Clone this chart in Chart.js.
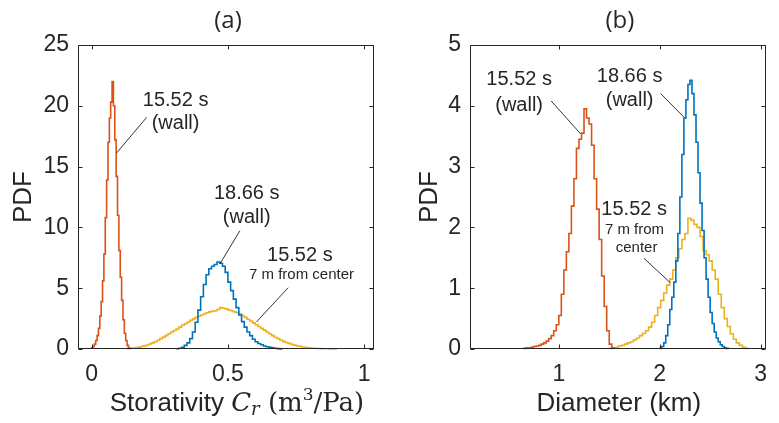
<!DOCTYPE html>
<html><head><meta charset="utf-8">
<script src="https://cdn.jsdelivr.net/npm/chart.js@4.4.1/dist/chart.umd.min.js"></script>
<style>
html,body{margin:0;padding:0;background:#fff;}
#wrap{position:relative;width:779px;height:423px;overflow:hidden;background:#fff;}
canvas{position:absolute;top:0;}
#ca{left:0;}
#cb{left:390px;}
</style></head><body>
<div id="wrap"><canvas id="ca" width="390" height="423"></canvas><canvas id="cb" width="389" height="423"></canvas></div>
<script>
// ---------- DATA (histogram bins: first bin left edge, bin width, PDF values) ----------
// Panel (a): Storativity C_r (m^3/Pa)
const redA_start = 0.0, redA_width = 0.005;
const redA = [0.1,0.2,0.4,0.7,1.1,1.7,2.7,3.9,5.6,7.8,10.8,13.9,17.0,19.0,20.3,22.0,20.0,17.2,14.2,11.0,8.1,5.9,4.0,2.4,1.3,0.7,0.3,0.1];
const blueA_start = 0.31, blueA_width = 0.01;
const blueA = [0.02,0.06,0.15,0.3,0.5,0.85,1.4,2.2,3.2,4.3,5.3,6.1,6.6,6.8,6.95,7.15,7.05,6.8,6.3,5.5,4.8,4.1,3.4,2.8,2.25,1.8,1.4,1.1,0.8,0.6,0.45,0.35,0.25,0.18,0.13,0.09,0.06,0.03,0.01];
const yellowA_start = 0.13, yellowA_width = 0.01;
const yellowA = [0.03,0.05,0.08,0.11,0.15,0.2,0.26,0.33,0.41,0.5,0.6,0.72,0.85,0.98,1.1,1.25,1.4,1.52,1.65,1.8,1.95,2.08,2.2,2.35,2.48,2.6,2.7,2.8,2.9,2.98,3.05,3.1,3.15,3.25,3.4,3.35,3.3,3.2,3.15,3.05,2.98,2.9,2.75,2.6,2.45,2.3,2.15,2.0,1.85,1.7,1.55,1.4,1.25,1.1,0.97,0.85,0.74,0.63,0.54,0.46,0.39,0.32,0.27,0.22,0.17,0.14,0.11,0.08,0.06,0.05,0.04,0.03,0.02,0.02,0.01,0.01,0.01];
// Panel (b): Diameter (km)
const redB_start = 0.65, redB_width = 0.025;
const redB = [0.01,0.02,0.02,0.03,0.04,0.05,0.06,0.08,0.1,0.13,0.17,0.22,0.3,0.4,0.55,0.9,1.3,1.6,1.9,2.35,2.8,3.3,3.45,3.55,3.95,3.8,3.7,3.35,2.8,2.3,1.8,1.2,0.7,0.3,0.08,0.02];
const blueB_start = 2.0, blueB_width = 0.02;
const blueB = [0.01,0.04,0.1,0.22,0.4,0.65,0.85,1.1,1.45,1.9,2.5,3.2,3.8,4.1,4.35,4.42,4.2,3.85,3.4,2.9,2.4,1.95,1.5,1.15,0.85,0.6,0.42,0.28,0.18,0.12,0.07,0.04,0.02,0.01];
const yellowB_start = 1.5, yellowB_width = 0.03;
const yellowB = [0.01,0.02,0.03,0.05,0.06,0.08,0.1,0.12,0.15,0.18,0.22,0.26,0.3,0.36,0.44,0.55,0.68,0.8,0.92,1.05,1.15,1.3,1.5,1.65,1.8,1.9,2.15,2.12,2.05,2.0,1.85,1.62,1.55,1.45,1.3,1.15,0.9,0.68,0.5,0.37,0.25,0.16,0.1,0.06,0.03,0.01];

// Tick labels
const xTicksA = [0, 0.5, 1];
const yTicksA = [0, 5, 10, 15, 20, 25];
const xTicksB = [1, 2, 3];
const yTicksB = [0, 1, 2, 3, 4, 5];

// Annotation texts
const notesTextA = ["15.52 s", "(wall)", "18.66 s", "(wall)", "15.52 s", "7 m from center"];
const notesTextB = ["15.52 s", "(wall)", "18.66 s", "(wall)", "15.52 s", "7 m from", "center"];

// ---------- STYLE / LAYOUT ----------
const C_RED = '#D95319', C_BLUE = '#0072BD', C_YEL = '#EDB120', C_TXT = '#262626';
const SANS = "'Liberation Sans', Arial, sans-serif";
const SERIF = "'DejaVu Serif', 'Liberation Serif', serif";

function histPoints(start, width, vals) {
  const pts = [{x: start, y: 0}];
  vals.forEach((v, i) => pts.push({x: start + i * width, y: v}));
  pts.push({x: start + vals.length * width, y: 0});
  return pts;
}

function ds(pts, color) {
  return {data: pts, borderColor: color, borderWidth: 1.6, stepped: 'before',
          pointRadius: 0, fill: false, tension: 0, clip: 4};
}

function framePlugin(cfg) {
  return {
    id: 'frame_' + cfg.id,
    afterDatasetsDraw(chart) {
      const ctx = chart.ctx, a = chart.chartArea;
      const xs = chart.scales.x, ys = chart.scales.y;
      ctx.save();
      // box
      ctx.strokeStyle = C_TXT; ctx.lineWidth = 1;
      const L = Math.round(a.left) + 0.5, R = Math.round(a.right) - 0.5;
      const T = Math.round(a.top) + 0.5, B = Math.round(a.bottom) - 0.5;
      ctx.strokeRect(L, T, R - L, B - T);
      // inward ticks
      const tl = 4;
      ctx.beginPath();
      cfg.xTicks.forEach(v => {
        const p = Math.round(xs.getPixelForValue(v)) + 0.5;
        ctx.moveTo(p, B); ctx.lineTo(p, B - tl);
        ctx.moveTo(p, T); ctx.lineTo(p, T + tl);
      });
      cfg.yTicks.forEach(v => {
        const p = Math.round(ys.getPixelForValue(v)) + 0.5;
        ctx.moveTo(L, p); ctx.lineTo(L + tl, p);
        ctx.moveTo(R, p); ctx.lineTo(R - tl, p);
      });
      ctx.stroke();
      // leader lines
      ctx.strokeStyle = '#000'; ctx.lineWidth = 0.8;
      cfg.leaders.forEach(l => {
        ctx.beginPath();
        ctx.moveTo(xs.getPixelForValue(l[0]), ys.getPixelForValue(l[1]));
        ctx.lineTo(xs.getPixelForValue(l[2]), ys.getPixelForValue(l[3]));
        ctx.stroke();
      });
      // annotation texts
      ctx.fillStyle = C_TXT; ctx.textAlign = 'center'; ctx.textBaseline = 'middle';
      cfg.notes.forEach((n, i) => {
        ctx.font = n.size + 'px ' + SANS;
        ctx.fillText(cfg.noteTexts[i], xs.getPixelForValue(n.x), ys.getPixelForValue(n.y));
      });
      // panel title
      const cx = (a.left + a.right) / 2;
      ctx.font = "24px 'Open Sans', 'Noto Sans', sans-serif";
      ctx.fillText(cfg.title, cx + 2, 21);
      // y title
      ctx.save();
      ctx.translate(cfg.yTitleX, (a.top + a.bottom) / 2);
      ctx.rotate(-Math.PI / 2);
      ctx.font = '26px ' + SANS;
      ctx.fillText('PDF', 0, 0);
      ctx.restore();
      // x title (mixed fonts)
      ctx.textAlign = 'left'; ctx.textBaseline = 'alphabetic';
      let total = 0;
      cfg.xTitle.forEach(s => { ctx.font = s.font; s.w = ctx.measureText(s.t).width; total += s.w; });
      let x = cx + cfg.xTitleShift - total / 2;
      const base = 411;
      cfg.xTitle.forEach(s => { ctx.font = s.font; ctx.fillText(s.t, x, base + (s.dy || 0)); x += s.w; });
      ctx.restore();
    }
  };
}

function makeChart(el, cfg) {
  return new Chart(el, {
    type: 'line',
    data: {datasets: cfg.datasets},
    options: {
      responsive: false, animation: false, events: [],
      layout: {autoPadding: false, padding: {top: cfg.padTop, right: cfg.padRight, left: 0, bottom: 0}},
      plugins: {legend: {display: false}, tooltip: {enabled: false}, title: {display: false}},
      scales: {
        x: {
          type: 'linear', min: cfg.xMin, max: cfg.xMax,
          grid: {display: false, drawTicks: false}, border: {display: false},
          afterBuildTicks: s => { s.ticks = cfg.xTicks.map(v => ({value: v})); },
          afterFit: s => { s.height = 74; },
          ticks: {color: C_TXT, font: {family: SANS, size: 23}, padding: 12, maxRotation: 0,
                  autoSkip: false, callback: v => String(v)}
        },
        y: {
          type: 'linear', min: cfg.yMin, max: cfg.yMax,
          grid: {display: false, drawTicks: false}, border: {display: false},
          afterBuildTicks: s => { s.ticks = cfg.yTicks.map(v => ({value: v})); },
          afterFit: s => { s.width = cfg.yWidth; },
          ticks: {color: C_TXT, font: {family: SANS, size: 23}, padding: 9,
                  autoSkip: false, callback: v => String(v)}
        }
      }
    },
    plugins: [framePlugin(cfg)]
  });
}

makeChart(document.getElementById('ca'), {
  id: 'a', title: '(a)',
  datasets: [
    ds(histPoints(redA_start, redA_width, redA), C_RED),
    ds(histPoints(blueA_start, blueA_width, blueA), C_BLUE),
    ds(histPoints(yellowA_start, yellowA_width, yellowA), C_YEL)
  ],
  xMin: -0.05, xMax: 1.036, yMin: 0, yMax: 25,
  xTicks: xTicksA, yTicks: yTicksA,
  padTop: 45, padRight: 16, yWidth: 78, yTitleX: 24, xTitleShift: 11,
  noteTexts: notesTextA,
  notes: [
    {x: 0.308, y: 20.44, size: 20}, {x: 0.308, y: 18.54, size: 20},
    {x: 0.569, y: 12.78, size: 20}, {x: 0.569, y: 10.82, size: 20},
    {x: 0.764, y: 7.69, size: 20}, {x: 0.770, y: 6.13, size: 15}
  ],
  leaders: [[0.202, 19.05, 0.092, 16.13], [0.544, 9.73, 0.471, 7.01], [0.721, 5.04, 0.605, 2.23]],
  xTitle: [
    {t: 'Storativity ', font: '26px ' + SANS},
    {t: 'C', font: 'italic 26px ' + SERIF},
    {t: 'r', font: 'italic 18px ' + SERIF, dy: 4},
    {t: ' (m', font: '26px ' + SERIF},
    {t: '3', font: '17px ' + SERIF, dy: -11},
    {t: '/Pa)', font: '26px ' + SERIF}
  ]
});

makeChart(document.getElementById('cb'), {
  id: 'b', title: '(b)',
  datasets: [
    ds(histPoints(redB_start, redB_width, redB), C_RED),
    ds(histPoints(blueB_start, blueB_width, blueB), C_BLUE),
    ds(histPoints(yellowB_start, yellowB_width, yellowB), C_YEL)
  ],
  xMin: 0.12, xMax: 3.05, yMin: 0, yMax: 5,
  xTicks: xTicksB, yTicks: yTicksB,
  padTop: 45, padRight: 1, yWidth: 80, yTitleX: 40, xTitleShift: 1,
  noteTexts: notesTextB,
  notes: [
    {x: 0.607, y: 4.43, size: 20}, {x: 0.607, y: 4.01, size: 20},
    {x: 1.702, y: 4.48, size: 20}, {x: 1.702, y: 4.09, size: 20},
    {x: 1.747, y: 2.29, size: 20}, {x: 1.750, y: 1.96, size: 15}, {x: 1.771, y: 1.67, size: 15}
  ],
  leaders: [[0.924, 4.08, 1.216, 3.54], [2.01, 4.20, 2.242, 3.81], [1.845, 1.49, 2.105, 1.09]],
  xTitle: [{t: 'Diameter (km)', font: '26px ' + SANS}]
});
</script>
</body></html>
